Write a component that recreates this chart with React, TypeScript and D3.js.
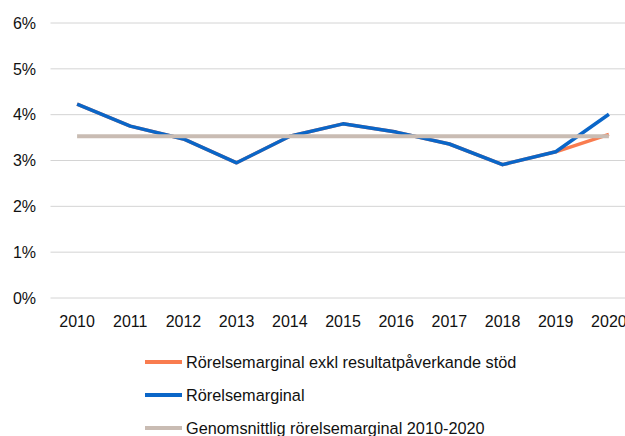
import React from 'react';
import * as d3 from 'd3';

const years = ['2010', '2011', '2012', '2013', '2014', '2015', '2016', '2017', '2018', '2019', '2020'];
const marginal = [4.23, 3.75, 3.47, 2.95, 3.53, 3.8, 3.62, 3.36, 2.91, 3.19, 4.01];
const marginalExkl = [4.23, 3.75, 3.47, 2.95, 3.53, 3.8, 3.62, 3.36, 2.91, 3.19, 3.57];
const average = [3.53, 3.53, 3.53, 3.53, 3.53, 3.53, 3.53, 3.53, 3.53, 3.53, 3.53];
const yTicks = [0, 1, 2, 3, 4, 5, 6];
const legendLabels = [
  'Rörelsemarginal exkl resultatpåverkande stöd',
  'Rörelsemarginal',
  'Genomsnittlig rörelsemarginal 2010-2020',
];
const colors = ['#f97c4f', '#0a66c8', '#c9bcb3'];

export default function App() {
  const width = 625;
  const height = 436;
  const left = 50.5;
  const right = 635.5;
  const top = 23;
  const bottom = 298;
  const font = 'Liberation Sans, Arial, sans-serif';

  const x = d3.scalePoint<string>().domain(years).range([left, right]).padding(0.5);
  const y = d3.scaleLinear().domain([0, 6]).range([bottom, top]);

  const line = d3
    .line<number>()
    .x((_, i) => x(years[i]) as number)
    .y((d) => y(d));

  // draw order: orange, blue, gray on top
  const series = [marginalExkl, marginal, average];

  return (
    <svg
      width={width}
      height={height}
      style={{ position: 'absolute', left: 0, top: 0, background: '#fff' }}
    >
      {yTicks.map((t) => (
        <g key={t}>
          <line x1={left} x2={width} y1={y(t)} y2={y(t)} stroke="#d4d4d4" strokeWidth={1} />
          <text
            x={36}
            y={y(t)}
            dy="0.36em"
            textAnchor="end"
            fontFamily={font}
            fontSize={16}
            fill="#111"
          >
            {t + '%'}
          </text>
        </g>
      ))}
      {years.map((yr) => (
        <text
          key={yr}
          x={x(yr)}
          y={327}
          textAnchor="middle"
          fontFamily={font}
          fontSize={16}
          fill="#111"
        >
          {yr}
        </text>
      ))}
      {series.map((s, i) => (
        <path
          key={i}
          d={line(s) || ''}
          fill="none"
          stroke={colors[i]}
          strokeWidth={i === 2 ? 4 : 3.5}
          strokeLinejoin="round"
        />
      ))}
      {legendLabels.map((lab, i) => {
        const ly = 362 + i * 33;
        return (
          <g key={lab}>
            <line x1={145} x2={182} y1={ly} y2={ly} stroke={colors[i]} strokeWidth={4} />
            <text
              x={186}
              y={ly}
              dy="0.36em"
              fontFamily={font}
              fontSize={16.3}
              fill="#111"
            >
              {lab}
            </text>
          </g>
        );
      })}
    </svg>
  );
}
